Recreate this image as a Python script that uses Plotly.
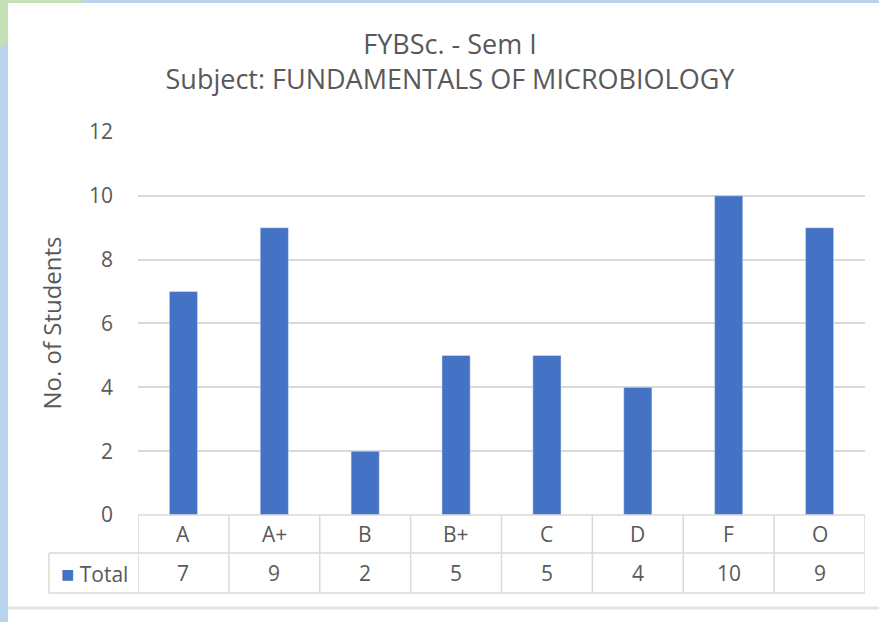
import plotly.graph_objects as go

categories = ["A", "A+", "B", "B+", "C", "D", "F", "O"]
totals = [7, 9, 2, 5, 5, 4, 10, 9]
series_name = "Total"
y_ticks = [0, 2, 4, 6, 8, 10, 12]

W, H = 879, 622
L, R, T, B = 138, 14, 131, 107
PW = W - L - R
PH = H - T - B

def px_x(p):
    return (p - L) / PW

def px_y(p):
    return (H - B - p) / PH

BAR = "#4472C4"
TXT = "#595959"
GRID = "#d9d9d9"
FONT = "Open Sans"

fig = go.Figure()
fig.add_trace(go.Bar(x=list(range(len(categories))), y=totals, name=series_name,
                     marker_color=BAR, width=0.31, showlegend=False))

shapes = []
# background decoration
shapes.append(dict(type="rect", xref="paper", yref="paper", x0=px_x(0), x1=px_x(W),
                   y0=px_y(H), y1=px_y(0), fillcolor="#b7d4ec", line_width=0, layer="below"))
shapes.append(dict(type="path", xref="paper", yref="paper",
                   path=f"M {px_x(0)} {px_y(0)} L {px_x(85)} {px_y(0)} L {px_x(0)} {px_y(48)} Z",
                   fillcolor="#c5e0b4", line_width=0, layer="below"))
shapes.append(dict(type="rect", xref="paper", yref="paper", x0=px_x(8), x1=px_x(W + 2),
                   y0=px_y(H + 2), y1=px_y(3), fillcolor="white", line_width=0, layer="below"))
shapes.append(dict(type="line", xref="paper", yref="paper", x0=px_x(8), x1=px_x(W),
                   y0=px_y(608), y1=px_y(608), line=dict(color="#e3e3e3", width=3)))

# data table lines
n = len(categories)
row1 = px_y(553)
row2 = px_y(593)
tl = dict(color=GRID, width=1.5)
shapes.append(dict(type="line", xref="x", yref="paper", x0=-0.5, x1=n - 0.5, y0=0, y1=0, line=tl))
shapes.append(dict(type="line", xref="paper", yref="paper", x0=px_x(49), x1=1, y0=row1, y1=row1, line=tl))
shapes.append(dict(type="line", xref="paper", yref="paper", x0=px_x(49), x1=1, y0=row2, y1=row2, line=tl))
shapes.append(dict(type="line", xref="paper", yref="paper", x0=px_x(49), x1=px_x(49), y0=row1, y1=row2, line=tl))
for i in range(n + 1):
    shapes.append(dict(type="line", xref="x", yref="paper", x0=i - 0.5, x1=i - 0.5, y0=0, y1=row2, line=tl))

annotations = []
for i, (c, v) in enumerate(zip(categories, totals)):
    annotations.append(dict(x=i, y=(0 + row1) / 2, xref="x", yref="paper", text=c, showarrow=False,
                            xanchor="center", yanchor="middle",
                            font=dict(size=21, color=TXT, family=FONT)))
    annotations.append(dict(x=i, y=(row1 + row2) / 2, xref="x", yref="paper", text=str(v), showarrow=False,
                            xanchor="center", yanchor="middle",
                            font=dict(size=21, color=TXT, family=FONT)))
annotations.append(dict(x=px_x(94), y=(row1 + row2) / 2, xref="paper", yref="paper",
                        text=f"<span style='color:{BAR};font-size:22px'>■</span> {series_name}", showarrow=False,
                        xanchor="center", yanchor="middle",
                        font=dict(size=21, color=TXT, family=FONT)))

fig.update_layout(
    width=W, height=H,
    margin=dict(l=L, r=R, t=T, b=B),
    paper_bgcolor="white", plot_bgcolor="white",
    title=dict(text="FYBSc. - Sem I<br>Subject: FUNDAMENTALS OF MICROBIOLOGY",
               x=450 / W, xanchor="center", y=1 - 54 / H, yanchor="middle",
               font=dict(size=27, color=TXT, family=FONT)),
    xaxis=dict(range=[-0.5, n - 0.5], showticklabels=False, showgrid=False, zeroline=False,
               fixedrange=True),
    yaxis=dict(range=[0, 12.03], tickvals=y_ticks, showgrid=True, gridcolor=GRID, gridwidth=1.5,
               zeroline=False, ticks="", ticklabelstandoff=24,
               tickfont=dict(size=21, color=TXT, family=FONT),
               title=dict(text="No. of Students", font=dict(size=24, color=TXT, family=FONT), standoff=20)),
    shapes=shapes, annotations=annotations, bargap=0.69,
)

fig.write_html("out.html", config={"displayModeBar": False},
               post_script="document.body.style.margin='0';")
